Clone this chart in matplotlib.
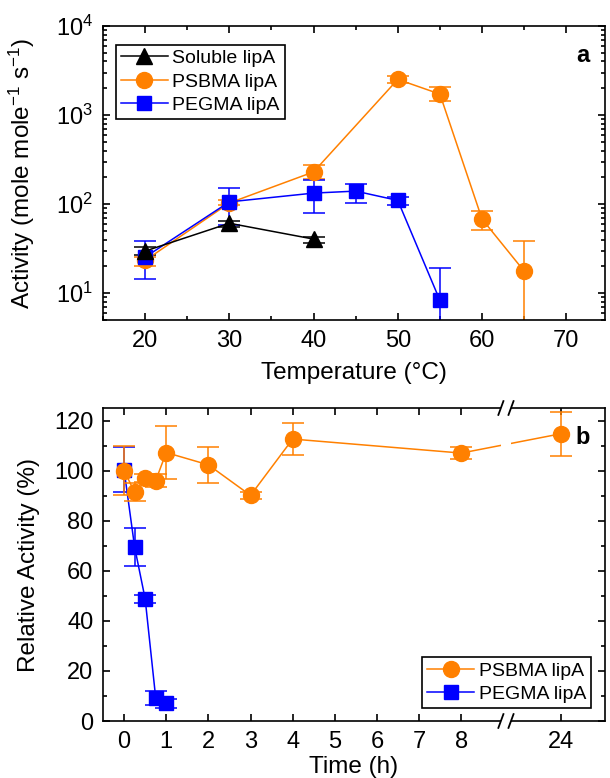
import numpy as np
import matplotlib
matplotlib.use("Agg")
import matplotlib.pyplot as plt
from matplotlib.ticker import LogLocator, NullFormatter, MultipleLocator, FixedLocator, FixedFormatter
from matplotlib.lines import Line2D
from matplotlib.patches import Rectangle
import matplotlib.transforms as mtrans

# ── Data (a): activity vs temperature ───────────────────────────────
temp_sol = [20, 30, 40]
act_sol = [29.7, 61, 40.5]
sol_lo = [3, 6, 4]
sol_hi = [3, 4, 2.5]

temp_psb = [20, 30, 40, 50, 55, 60, 65]
act_psb = [23.3, 103, 230, 2515, 1720, 68, 17.7]
psb_lo = [3.3, 6, 37, 215, 270, 16.4, 16.7]
psb_hi = [2.1, 7, 43, 235, 320, 15, 20.8]

temp_peg = [20, 30, 40, 45, 50, 55]
act_peg = [25.4, 106, 133, 140, 110, 8.3]
peg_lo = [11, 47, 54, 36, 13, 7.8]
peg_hi = [13.6, 44, 52, 27, 10, 10.7]

# ── Data (b): relative activity vs time ─────────────────────────────
time_psb = [0, 0.25, 0.5, 0.75, 1, 2, 3, 4, 8, 24]
rel_psb = [100, 91.4, 97.0, 96.0, 107.2, 102.3, 90.1, 112.6, 107.0, 114.7]
rel_psb_err = [9.7, 3.7, 1.5, 2.7, 10.7, 7.1, 1.5, 6.3, 2.5, 8.7]

time_peg = [0, 0.25, 0.5, 0.75, 1]
rel_peg = [100.3, 69.5, 48.8, 9.3, 7.0]
rel_peg_err = [9, 7.7, 1.5, 2.8, 1.8]

time_ticks = [0, 1, 2, 3, 4, 5, 6, 7, 8, 24]

ORANGE = "#FF8000"
BLUE = "#0000FF"

plt.rcParams.update({
    "font.family": "Liberation Sans",
    "mathtext.fontset": "custom",
    "mathtext.rm": "Liberation Sans",
    "mathtext.it": "Liberation Sans:italic",
    "mathtext.bf": "Liberation Sans:bold",
    "mathtext.default": "regular",
    "axes.linewidth": 1.2,
})

# broken time axis: 9 h .. 22.65 h collapsed
BRK_LO, BRK_HI = 9.0, 22.65
_t = [-50, BRK_LO, BRK_HI, 100]
_p = [-50, BRK_LO, BRK_LO + 0.01, 100 - (BRK_HI - BRK_LO) + 0.01]


def fwd(t):
    return np.interp(t, _t, _p)


def inv(p):
    return np.interp(p, _p, _t)


def style_ticks(ax):
    ax.tick_params(which="both", direction="in", top=True, right=True,
                   width=1.2, labelsize=17, pad=7)
    ax.tick_params(which="major", length=5)
    ax.tick_params(which="minor", length=3)


fig = plt.figure(figsize=(6.1, 7.78), dpi=100)
ax1 = fig.add_axes([103 / 610, 1 - 320 / 778, 502 / 610, 294 / 778])
ax2 = fig.add_axes([103 / 610, 1 - 721 / 778, 502 / 610, 313 / 778])

# ── Panel a ─────────────────────────────────────────────────────────
ekw = dict(elinewidth=1.1, capthick=1.1, capsize=8)
ax1.errorbar(temp_psb, act_psb, yerr=[psb_lo, psb_hi], color=ORANGE, lw=1.1,
             marker="o", ms=11.5, **ekw)
ax1.errorbar(temp_peg, act_peg, yerr=[peg_lo, peg_hi], color=BLUE, lw=1.1,
             marker="s", ms=9.5, **ekw)
ax1.errorbar(temp_sol, act_sol, yerr=[sol_lo, sol_hi], color="black", lw=1.1,
             marker="^", ms=11, **ekw)

ax1.set_yscale("log")
ax1.set_ylim(5, 1e4)
ax1.set_xlim(15, 74.6)
ax1.set_xticks([20, 30, 40, 50, 60, 70])
ax1.xaxis.set_minor_locator(MultipleLocator(5))
ax1.yaxis.set_major_locator(LogLocator(base=10, numticks=10))
ax1.yaxis.set_minor_locator(LogLocator(base=10, subs=np.arange(2, 10), numticks=20))
ax1.yaxis.set_minor_formatter(NullFormatter())
style_ticks(ax1)

ax1.set_xlabel("Temperature (°C)", fontsize=17.5)
ax1.set_ylabel("Activity (mole mole$^{-1}$ s$^{-1}$)", fontsize=17.5)
ax1.xaxis.set_label_coords(0.5, -0.18)
ax1.xaxis.label.set_va("center")
ax1.yaxis.set_label_coords(-0.161, 0.5)
ax1.yaxis.label.set_va("center")

h_a = [Line2D([], [], color="black", lw=1.1, marker="^", ms=11),
       Line2D([], [], color=ORANGE, lw=1.1, marker="o", ms=11.5),
       Line2D([], [], color=BLUE, lw=1.1, marker="s", ms=9.5)]
leg = ax1.legend(h_a, ["Soluble lipA", "PSBMA lipA", "PEGMA lipA"],
                 loc="upper left", bbox_to_anchor=(0.026, 0.936), fontsize=14,
                 fancybox=False, edgecolor="black", framealpha=1,
                 borderaxespad=0, borderpad=0.25, labelspacing=0.3,
                 handlelength=2.4, handletextpad=0.25)
leg.get_frame().set_linewidth(1.2)
ax1.text(0.97, 0.90, "a", transform=ax1.transAxes, fontsize=17,
         fontweight="bold", ha="right", va="center")

# ── Panel b ─────────────────────────────────────────────────────────
ax2.set_xscale("function", functions=(fwd, inv))
ax2.errorbar(time_peg, rel_peg, yerr=rel_peg_err, fmt="none", ecolor=BLUE, **ekw)
ax2.plot(time_peg, rel_peg, color=BLUE, lw=1.1, marker="s", ms=9.5,
         label="PEGMA lipA")
ax2.errorbar(time_psb, rel_psb, yerr=rel_psb_err, fmt="none", ecolor=ORANGE, **ekw)
ax2.plot(time_psb, rel_psb, color=ORANGE, lw=1.1, marker="o", ms=11.5,
         label="PSBMA lipA")

ax2.set_xlim(-0.5, 25.05)
ax2.set_ylim(0, 125)
ax2.xaxis.set_major_locator(FixedLocator(time_ticks))
ax2.xaxis.set_major_formatter(FixedFormatter([str(t) for t in time_ticks]))
ax2.xaxis.set_minor_locator(FixedLocator([]))
ax2.yaxis.set_major_locator(MultipleLocator(20))
ax2.yaxis.set_minor_locator(MultipleLocator(10))
style_ticks(ax2)

ax2.set_xlabel("Time (h)", fontsize=17.5)
ax2.set_ylabel("Relative Activity (%)", fontsize=17.5)
ax2.xaxis.set_label_coords(0.5, -0.147)
ax2.xaxis.label.set_va("center")
ax2.yaxis.set_label_coords(-0.147, 0.5)
ax2.yaxis.label.set_va("center")

# axis break
s1, s2 = 8.94, BRK_HI + 0.17
blend = mtrans.blended_transform_factory(ax2.transData, ax2.transAxes)
ax2.add_patch(Rectangle((s1, -0.02), s2 - s1, 1.04, transform=blend,
                        facecolor="white", edgecolor="none", zorder=2.6,
                        clip_on=False))
for xc in (s1, s2):
    for yc in (0, 1):
        ax2.add_line(Line2D([xc - 0.06, xc + 0.06], [yc - 0.022, yc + 0.022],
                            transform=blend, color="black", lw=1.3,
                            zorder=3, clip_on=False))

h, l = ax2.get_legend_handles_labels()
leg2 = ax2.legend(h[::-1], l[::-1], loc="lower right",
                  bbox_to_anchor=(0.972, 0.042), fontsize=14, fancybox=False,
                  edgecolor="black", framealpha=1, borderaxespad=0,
                  borderpad=0.25, labelspacing=0.3, handlelength=2.4,
                  handletextpad=0.25)
leg2.get_frame().set_linewidth(1.2)
ax2.text(0.97, 0.905, "b", transform=ax2.transAxes, fontsize=17,
         fontweight="bold", ha="right", va="center")

fig.savefig("out.png", dpi=100)
